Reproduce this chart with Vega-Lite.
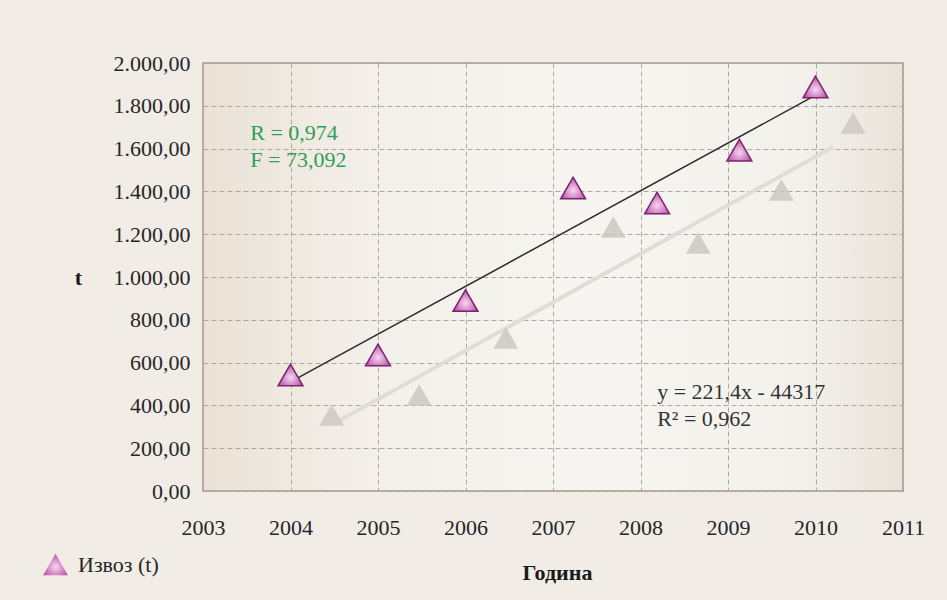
{
  "$schema": "https://vega.github.io/schema/vega-lite/v6.json",
  "width": 700,
  "height": 428,
  "autosize": "none",
  "padding": {"left": 203, "top": 63, "right": 44, "bottom": 109},
  "background": "#f1ede6",
  "config": {
    "locale": {"number": {"decimal": ",", "thousands": ".", "grouping": [3], "currency": ["", ""]}},
    "view": {
      "fill": {"gradient": "linear", "x1": 0, "y1": 0, "x2": 1, "y2": 0,
        "stops": [{"offset": 0, "color": "#ebe2d6"}, {"offset": 0.25, "color": "#f3f0ea"}, {"offset": 0.55, "color": "#f6f5f1"}, {"offset": 0.85, "color": "#f3f1ec"}, {"offset": 1, "color": "#e9e3da"}]},
      "stroke": "#a39a90", "strokeWidth": 1.5
    },
    "font": "Liberation Serif",
    "axis": {
      "domain": false, "ticks": false, "grid": true,
      "gridColor": "#b3a69c", "gridDash": [5, 3], "gridWidth": 1,
      "labelFont": "Liberation Serif", "labelFontSize": 22, "labelColor": "#262626",
      "titleFont": "Liberation Serif", "titleFontSize": 22, "titleColor": "#1a1a1a", "titleFontWeight": "bold",
      "labelFlush": false, "labelOverlap": false
    }
  },
  "datasets": {
    "points": [
      {"year": 2004, "t": 542, "series": "Извоз (t)"},
      {"year": 2005, "t": 636, "series": "Извоз (t)"},
      {"year": 2006, "t": 890, "series": "Извоз (t)"},
      {"year": 2007.23, "t": 1416, "series": "Извоз (t)"},
      {"year": 2008.19, "t": 1346, "series": "Извоз (t)"},
      {"year": 2009.13, "t": 1593, "series": "Извоз (t)"},
      {"year": 2010, "t": 1888, "series": "Извоз (t)"}
    ],
    "shadow": [
      {"year": 2004.47, "t": 355},
      {"year": 2005.47, "t": 449},
      {"year": 2006.46, "t": 715},
      {"year": 2007.69, "t": 1234},
      {"year": 2008.66, "t": 1159},
      {"year": 2009.61, "t": 1407},
      {"year": 2010.43, "t": 1720}
    ],
    "trend": [
      {"year": 2004, "t": 510},
      {"year": 2009.95, "t": 1838}
    ],
    "shadowTrend": [
      {"year": 2004.57, "t": 332},
      {"year": 2010.2, "t": 1607}
    ],
    "greenText": [
      {"year": 2003.54, "t": 1673, "label": "R = 0,974"},
      {"year": 2003.54, "t": 1547, "label": "F = 73,092"}
    ],
    "eqText": [
      {"year": 2008.19, "t": 463, "label": "y = 221,4x - 44317"},
      {"year": 2008.19, "t": 336, "label": "R² = 0,962"}
    ]
  },
  "layer": [
    {
      "data": {"name": "shadowTrend"},
      "mark": {"type": "line", "color": "#e0ddd7", "strokeWidth": 4},
      "encoding": {
        "x": {
          "field": "year", "type": "quantitative",
          "scale": {"domain": [2003, 2011], "nice": false, "zero": false},
          "axis": {"values": [2003, 2004, 2005, 2006, 2007, 2008, 2009, 2010, 2011], "format": "d", "labelPadding": 26, "title": "Година", "titleY": 81, "titleBaseline": "middle", "titleX": 354}
        },
        "y": {
          "field": "t", "type": "quantitative",
          "scale": {"domain": [0, 2000], "nice": false},
          "axis": {"values": [0, 200, 400, 600, 800, 1000, 1200, 1400, 1600, 1800, 2000], "format": ",.2f", "labelPadding": 13, "title": "t", "titleAngle": 0, "titleX": -125, "titleY": 214, "titleAlign": "center", "titleBaseline": "middle"}
        }
      }
    },
    {
      "data": {"name": "shadow"},
      "mark": {"type": "point", "shape": "triangle-up", "filled": true, "size": 620, "color": "#c9c6c1", "opacity": 0.8},
      "encoding": {
        "x": {"field": "year", "type": "quantitative"},
        "y": {"field": "t", "type": "quantitative"}
      }
    },
    {
      "data": {"name": "trend"},
      "mark": {"type": "line", "color": "#2a2a2a", "strokeWidth": 1.5},
      "encoding": {
        "x": {"field": "year", "type": "quantitative"},
        "y": {"field": "t", "type": "quantitative"}
      }
    },
    {
      "data": {"name": "points"},
      "mark": {
        "type": "point", "filled": true, "size": 620, "opacity": 1,
        "fill": {"gradient": "radial", "x1": 0.5, "y1": 0.6, "r1": 0, "x2": 0.5, "y2": 0.6, "r2": 0.6,
          "stops": [{"offset": 0, "color": "#f7d6f0"}, {"offset": 1, "color": "#b2419f"}]},
        "stroke": "#7a2470", "strokeWidth": 1.5
      },
      "encoding": {
        "x": {"field": "year", "type": "quantitative"},
        "y": {"field": "t", "type": "quantitative"},
        "shape": {
          "field": "series", "type": "nominal",
          "scale": {"range": ["triangle-up"]},
          "legend": {
            "orient": "none", "legendX": -161, "legendY": 488, "title": null, "padding": 0,
            "symbolSize": 620, "symbolFillColor": "#c462b2", "symbolStrokeColor": "#7a2470", "symbolStrokeWidth": 1.5,
            "labelFont": "Liberation Serif", "labelFontSize": 22, "labelColor": "#262626", "labelOffset": 9
          }
        }
      }
    },
    {
      "data": {"name": "greenText"},
      "mark": {"type": "text", "align": "left", "baseline": "middle", "font": "Liberation Serif", "fontSize": 22, "color": "#2f9e58"},
      "encoding": {
        "x": {"field": "year", "type": "quantitative"},
        "y": {"field": "t", "type": "quantitative"},
        "text": {"field": "label"}
      }
    },
    {
      "data": {"name": "eqText"},
      "mark": {"type": "text", "align": "left", "baseline": "middle", "font": "Liberation Serif", "fontSize": 22, "color": "#333333"},
      "encoding": {
        "x": {"field": "year", "type": "quantitative"},
        "y": {"field": "t", "type": "quantitative"},
        "text": {"field": "label"}
      }
    }
  ]
}
